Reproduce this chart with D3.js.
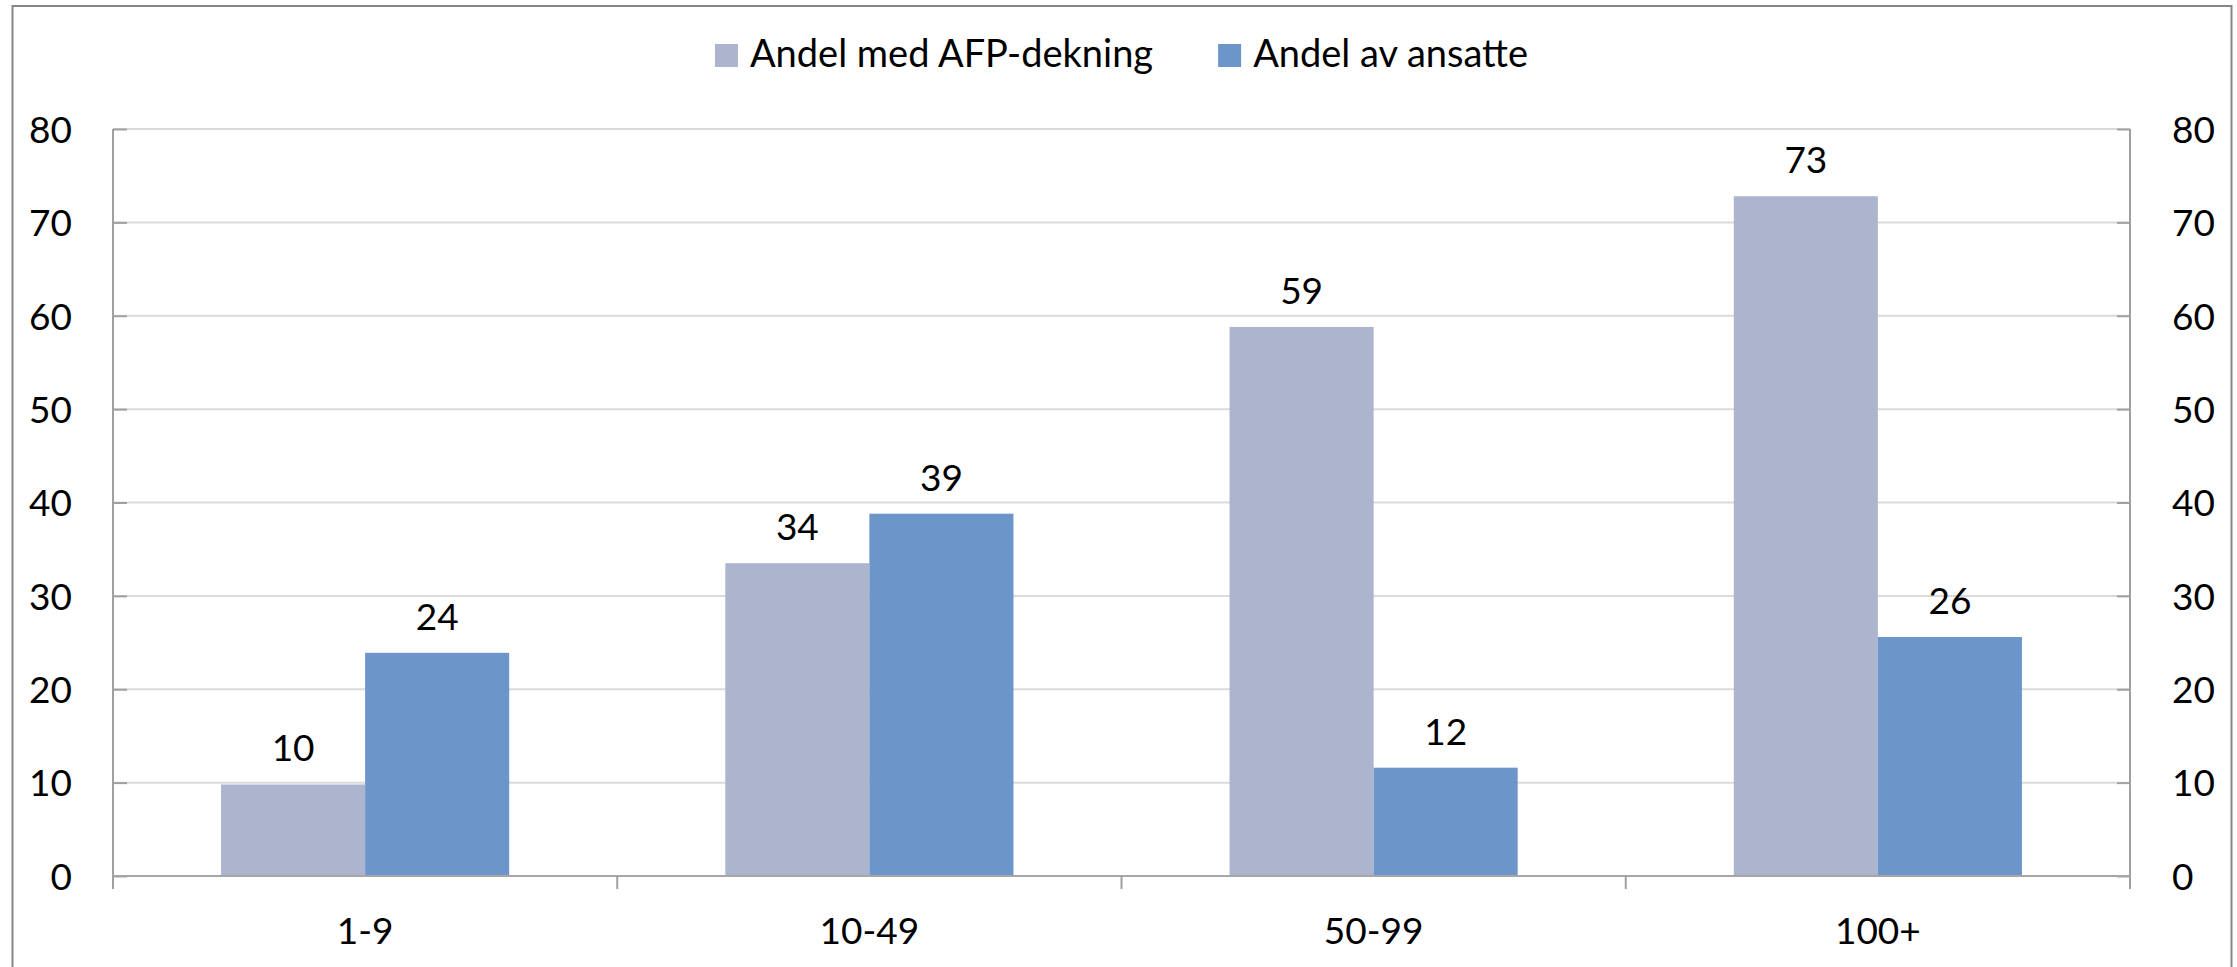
<!DOCTYPE html>
<html>
<head>
<meta charset="utf-8">
<script src="https://cdn.jsdelivr.net/npm/d3@7"></script>
<style>
  body { margin: 0; background: #fff; }
  svg { display: block; }
  text { font-family: Lato, "Open Sans", sans-serif; fill: #000; }
</style>
</head>
<body>
<div id="main"></div>
<script>
const categories = ["1-9", "10-49", "50-99", "100+"];
const seriesNames = ["Andel med AFP-dekning", "Andel av ansatte"];
const afpValues = [9.8, 33.5, 58.8, 72.8];
const ansatteValues = [23.9, 38.8, 11.6, 25.6];
const labelsAfp = ["10", "34", "59", "73"];
const labelsAnsatte = ["24", "39", "12", "26"];
const yTicks = [0, 10, 20, 30, 40, 50, 60, 70, 80];

const colors = ["#adb4ce", "#6c95ca"];

const width = 2237;
const height = 967;
const margin = { top: 129, right: 107, bottom: 91, left: 113 };

const svg = d3.select("#main").append("svg").attr("width", width).attr("height", height);

// outer frame
svg
  .append("rect")
  .attr("x", 12.5)
  .attr("y", 6)
  .attr("width", 2219)
  .attr("height", 1000)
  .attr("fill", "none")
  .attr("stroke", "#868686")
  .attr("stroke-width", 2);

const x0 = d3
  .scaleBand()
  .domain(categories)
  .range([margin.left, width - margin.right])
  .padding(0);

const x1 = d3
  .scaleBand()
  .domain(seriesNames)
  .range([0, x0.bandwidth()])
  .paddingInner(0)
  .paddingOuter(0.75);

const y = d3
  .scaleLinear()
  .domain([0, 80])
  .range([height - margin.bottom, margin.top]);

const plotLeft = margin.left;
const plotRight = width - margin.right;

// gridlines
svg
  .append("g")
  .selectAll("line")
  .data(yTicks.filter((t) => t > 0))
  .enter()
  .append("line")
  .attr("x1", plotLeft)
  .attr("x2", plotRight)
  .attr("y1", (d) => y(d))
  .attr("y2", (d) => y(d))
  .attr("stroke", "#dadada")
  .attr("stroke-width", 2);

// bars
const rows = categories.map((c, i) => ({
  category: c,
  values: [
    { name: seriesNames[0], value: afpValues[i], label: labelsAfp[i] },
    { name: seriesNames[1], value: ansatteValues[i], label: labelsAnsatte[i] },
  ],
}));

const groups = svg
  .append("g")
  .selectAll("g")
  .data(rows)
  .enter()
  .append("g")
  .attr("transform", (d) => `translate(${x0(d.category)},0)`);

groups
  .selectAll("rect")
  .data((d) => d.values)
  .enter()
  .append("rect")
  .attr("x", (d) => x1(d.name))
  .attr("y", (d) => y(d.value))
  .attr("width", x1.bandwidth())
  .attr("height", (d) => y(0) - y(d.value))
  .attr("fill", (d, i) => colors[i]);

groups
  .selectAll("text")
  .data((d) => d.values)
  .enter()
  .append("text")
  .attr("x", (d) => x1(d.name) + x1.bandwidth() / 2)
  .attr("y", (d) => y(d.value) - 23)
  .attr("text-anchor", "middle")
  .style("font-size", "37px")
  .text((d) => d.label);

// left axis
const leftAxis = d3
  .axisLeft(y)
  .tickValues(yTicks)
  .tickSize(-14)
  .tickPadding(41);

const gLeft = svg.append("g").attr("transform", `translate(${plotLeft},0)`).call(leftAxis);

// right axis
const rightAxis = d3
  .axisRight(y)
  .tickValues(yTicks)
  .tickSize(-13)
  .tickPadding(42);

const gRight = svg.append("g").attr("transform", `translate(${plotRight},0)`).call(rightAxis);

[gLeft, gRight].forEach((g) => {
  g.select(".domain").remove();
  g.selectAll(".tick line").attr("stroke", "#a0a0a0").attr("stroke-width", 2);
  g.selectAll(".tick text")
    .attr("dy", "0.36em")
    .style("font-family", "Lato, sans-serif")
    .style("font-size", "37px")
    .attr("fill", "#000");
});

// vertical axis lines
[plotLeft, plotRight].forEach((xp) => {
  svg
    .append("line")
    .attr("x1", xp)
    .attr("x2", xp)
    .attr("y1", y(80))
    .attr("y2", y(0) + 13)
    .attr("stroke", "#a0a0a0")
    .attr("stroke-width", 2);
});

// category axis
const bottomAxis = d3.axisBottom(x0).tickSize(0).tickPadding(0);
const gBottom = svg
  .append("g")
  .attr("transform", `translate(0,${y(0)})`)
  .call(bottomAxis);
gBottom.select(".domain").remove();
gBottom
  .selectAll(".tick text")
  .attr("y", 68)
  .attr("dy", 0)
  .style("font-family", "Lato, sans-serif")
  .style("font-size", "37px")
  .attr("fill", "#000");

svg
  .append("line")
  .attr("x1", plotLeft)
  .attr("x2", plotRight)
  .attr("y1", y(0))
  .attr("y2", y(0))
  .attr("stroke", "#a6a6a6")
  .attr("stroke-width", 2);

// category separators
svg
  .append("g")
  .selectAll("line")
  .data(categories.slice(1))
  .enter()
  .append("line")
  .attr("x1", (d) => x0(d))
  .attr("x2", (d) => x0(d))
  .attr("y1", y(0))
  .attr("y2", y(0) + 13)
  .attr("stroke", "#a0a0a0")
  .attr("stroke-width", 2);

// legend
const legend = svg.append("g").attr("id", "legend");
const legendItems = legend
  .selectAll("g")
  .data(seriesNames)
  .enter()
  .append("g");

legendItems
  .append("rect")
  .attr("width", 23)
  .attr("height", 23)
  .attr("y", 44)
  .attr("fill", (d, i) => colors[i]);

legendItems
  .append("text")
  .attr("x", 35)
  .attr("y", 67)
  .style("font-size", "38px")
  .text((d) => d);

let offset = 0;
const itemWidths = [];
legendItems.each(function () {
  const w = 35 + this.querySelector("text").getComputedTextLength();
  itemWidths.push(w);
});
const gap = 65;
const total = d3.sum(itemWidths) + gap * (itemWidths.length - 1);
offset = (plotLeft + plotRight) / 2 - total / 2;
legendItems.attr("transform", (d, i) => {
  const t = `translate(${offset},0)`;
  offset += itemWidths[i] + gap;
  return t;
});
</script>
</body>
</html>
